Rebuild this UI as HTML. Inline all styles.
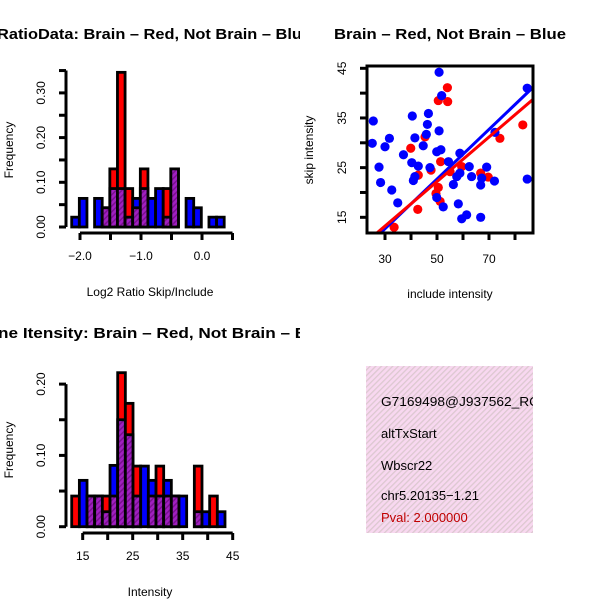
<!DOCTYPE html>
<html><head><meta charset="utf-8"><style>
body{margin:0;background:#fff}
svg{display:block;font-family:"Liberation Sans",sans-serif}
</style></head><body>
<svg id="c" width="600" height="600" viewBox="0 0 600 600">
<defs>
<pattern id="purp" width="4" height="4" patternUnits="userSpaceOnUse" patternTransform="rotate(45)">
<rect width="4" height="4" fill="#a020c0"/><rect width="1.5" height="4" fill="#7a1090"/></pattern>
<pattern id="pink" width="4" height="4" patternUnits="userSpaceOnUse" patternTransform="rotate(45)">
<rect width="4" height="4" fill="#f8d8f0"/><rect width="1.3" height="4" fill="#dcc8d0"/></pattern>
<clipPath id="cl1"><rect x="0" y="0" width="300" height="300"/></clipPath>
<clipPath id="cl3"><rect x="0" y="300" width="300" height="300"/></clipPath>
<clipPath id="cl2"><rect x="367" y="66" width="166" height="167"/></clipPath>
<clipPath id="cl4"><rect x="366" y="366" width="167" height="167"/></clipPath>
</defs>
<g id="p1" clip-path="url(#cl1)"></g>
<g id="p2"></g>
<g id="p3" clip-path="url(#cl3)"></g>
<g id="p4">
<rect x="366" y="366" width="167" height="167" fill="url(#pink)"/>
<g clip-path="url(#cl4)" font-size="13">
<text x="381" y="406" textLength="158" lengthAdjust="spacingAndGlyphs">G7169498@J937562_RC</text>
<text x="381" y="438">altTxStart</text>
<text x="381" y="470">Wbscr22</text>
<text x="381" y="500">chr5.20135−1.21</text>
<text x="381" y="522" fill="#c00000">Pval: 2.000000</text>
</g></g>
</svg>
<script>
// Histogram 1 data
const h1Start=-2.136, h1Width=0.125;
const h1Red=[0,0,0,0,0.043,0.13,0.346,0.086,0.043,0.13,0,0,0.086,0.13,0,0,0,0,0,0];
const h1Blue=[0.022,0.064,0,0.064,0.043,0.086,0.086,0.022,0.064,0.086,0.064,0.086,0.022,0.13,0,0.064,0.043,0,0.022,0.022];
const h1XTicks=[-2.0,-1.5,-1.0,-0.5,0.0,0.5];
const h1XLabels=["−2.0","","−1.0","","0.0",""];
const h1YTicks=[0,0.05,0.1,0.15,0.2,0.25,0.3,0.35];
const h1YLabels=["0.00","","0.10","","0.20","","0.30",""];
// Histogram 2 data
const h2Start=12.8, h2Width=1.533;
const h2Red=[0.043,0,0.043,0.043,0.043,0.043,0.216,0.173,0.085,0,0.043,0.085,0.043,0.043,0,0,0.085,0,0.043,0];
const h2Blue=[0,0.065,0.043,0.043,0.021,0.086,0.15,0.129,0.043,0.085,0.065,0.043,0.065,0.043,0.043,0,0.021,0.021,0,0.021];
const h2XTicks=[15,20,25,30,35,40,45];
const h2XLabels=["15","","25","","35","","45"];
const h2YTicks=[0,0.05,0.1,0.15,0.2];
const h2YLabels=["0.00","","0.10","","0.20"];
// Scatter data
const blueX=[50.8,51.8,84.7,25.5,40.5,46.7,46.3,50.8,45.9,41.5,31.7,25.1,30.0,44.7,37.1,49.9,51.5,58.8,40.3,42.8,47.3,27.7,54.4,62.4,69.1,58.8,57.6,63.3,67.2,72.1,66.8,56.3,41.5,40.9,28.3,32.6,49.9,52.4,58.2,34.9,61.4,59.5,66.8,84.7,72.3];
const blueY=[44.2,39.5,41.0,34.4,35.4,35.9,33.7,32.4,31.7,31.0,30.9,29.9,29.2,29.4,27.6,28.2,28.6,27.9,26.0,25.3,25.0,25.1,26.2,25.2,25.1,23.9,23.2,23.2,22.9,22.3,21.5,21.6,23.2,22.4,22.0,20.5,19.0,17.1,17.7,17.9,15.5,14.7,15.0,22.7,32.1];
const redX=[54.0,50.5,54.1,45.4,39.9,74.2,83.0,51.4,55.0,59.5,42.8,66.8,69.7,50.5,49.6,51.2,42.6,33.5,47.7];
const redY=[41.1,38.5,38.3,31.2,28.9,30.9,33.6,26.2,24.2,25.2,23.5,23.9,23.1,21.0,19.8,18.2,16.6,13.0,24.5];
const blueFit=[-2.3,0.50];
const redFit=[-0.2,0.448];
const scXTicks=[30,40,50,60,70,80];
const scXLabels=["30","","50","","70",""];
const scYTicks=[15,20,25,30,35,40,45];
const scYLabels=["15","","25","","35","","45"];

const NS="http://www.w3.org/2000/svg";
function mk(p,t,a){const e=document.createElementNS(NS,t);for(const k in a)e.setAttribute(k,a[k]);p.appendChild(e);return e;}

function hist(g,start,w,red,blue,xt,xl,yt,yl,cfg){
  const sx=v=>cfg.x0+(v-cfg.xv0)*cfg.kx, sy=v=>cfg.y0-v*cfg.ky;
  for(let i=0;i<red.length;i++){
    const a=sx(start+i*w), b=sx(start+(i+1)*w);
    const r=red[i], bl=blue[i];
    const mx=Math.max(r,bl), mn=Math.min(r,bl);
    if(mx>0){
      const e=mk(g,'rect',{x:a,y:sy(mx),width:b-a,height:sy(0)-sy(mx),fill:r>bl?'#ff0000':'#0000ff',stroke:'#000','stroke-width':2.8});
      
      
    }
    if(mn>0){
      const e=mk(g,'rect',{x:a,y:sy(mn),width:b-a,height:sy(0)-sy(mn),fill:'url(#purp)',stroke:'#000','stroke-width':2.8});
      
      
    }
  }
  const ax=mk(g,'g',{});
  
  
  mk(ax,'line',{x1:sx(xt[0]),x2:sx(xt[xt.length-1]),y1:cfg.axy,y2:cfg.axy,stroke:'#000','stroke-width':3});
  xt.forEach((v,i)=>{mk(ax,'line',{x1:sx(v),x2:sx(v),y1:cfg.axy,y2:cfg.axy+7,stroke:'#000','stroke-width':3});
    if(xl[i]){const t=mk(ax,'text',{x:sx(v),y:cfg.axy+27,'text-anchor':'middle','font-size':12});t.textContent=xl[i];}});
  const ay=mk(g,'g',{});
  
  
  mk(ay,'line',{x1:cfg.axx,x2:cfg.axx,y1:sy(yt[0]),y2:sy(yt[yt.length-1]),stroke:'#000','stroke-width':3});
  yt.forEach((v,i)=>{mk(ay,'line',{x1:cfg.axx-7,x2:cfg.axx,y1:sy(v),y2:sy(v),stroke:'#000','stroke-width':3});
    if(yl[i]){const t=mk(ay,'text',{x:0,y:0,transform:`translate(${cfg.axx-21},${sy(v)}) rotate(-90)`,'text-anchor':'middle','font-size':12});t.textContent=yl[i];}});
  let t=mk(g,'text',{x:cfg.xtx,y:cfg.axy+63,'text-anchor':'middle','font-size':12});t.textContent=cfg.xtitle;
  
  t=mk(g,'text',{x:0,y:0,transform:`translate(13,${cfg.ytyc}) rotate(-90)`,'text-anchor':'middle','font-size':12});t.textContent='Frequency';
  
  t=mk(g,'text',{x:cfg.tx,y:cfg.ty,'font-size':14.5,'font-weight':'bold',textLength:cfg.tl,lengthAdjust:'spacingAndGlyphs'});t.textContent=cfg.title;
  
}
const p1=document.getElementById('p1');


hist(p1,h1Start,h1Width,h1Red,h1Blue,h1XTicks,h1XLabels,h1YTicks,h1YLabels,
 {x0:80,xv0:-2.0,kx:61,y0:227,ky:447,axy:233,axx:66,xtx:150,xtitle:'Log2 Ratio Skip/Include',ytyc:150,tx:-3,ty:39,tl:314,title:'RatioData: Brain – Red, Not Brain – Blue'});
const p3=document.getElementById('p3');


hist(p3,h2Start,h2Width,h2Red,h2Blue,h2XTicks,h2XLabels,h2YTicks,h2YLabels,
 {x0:82.7,xv0:15,kx:5.0,y0:526.7,ky:713,axy:533,axx:66,xtx:150,xtitle:'Intensity',ytyc:450,tx:-2,ty:338,tl:334,title:'ne Itensity: Brain – Red, Not Brain – Blue'});

// scatter
const p2=document.getElementById('p2');


const X=v=>385+(v-30)*2.6, Y=v=>68.3+(45-v)*4.967;
const pts=mk(p2,'g',{'clip-path':'url(#cl2)'});
redX.forEach((v,i)=>{const c=mk(pts,'circle',{cx:X(v),cy:Y(redY[i]),r:4.6,fill:'#ff0000'});
  });
blueX.forEach((v,i)=>{const c=mk(pts,'circle',{cx:X(v),cy:Y(blueY[i]),r:4.6,fill:'#0000ff'});
  });
[[blueFit,'#0000ff','fit-line-blue'],[redFit,'#ff0000','fit-line-red']].forEach(([f,col,n])=>{
  const l=mk(pts,'line',{x1:X(20),y1:Y(f[0]+f[1]*20),x2:X(90),y2:Y(f[0]+f[1]*90),stroke:col,'stroke-width':3});
  });
mk(p2,'rect',{x:367,y:66,width:166,height:167,fill:'none',stroke:'#000','stroke-width':3});
const sxa=mk(p2,'g',{});


scXTicks.forEach((v,i)=>{mk(sxa,'line',{x1:X(v),x2:X(v),y1:233,y2:240,stroke:'#000','stroke-width':3});
  if(scXLabels[i]){const t=mk(sxa,'text',{x:X(v),y:263,'text-anchor':'middle','font-size':12});t.textContent=scXLabels[i];}});
const sya=mk(p2,'g',{});


scYTicks.forEach((v,i)=>{mk(sya,'line',{x1:360,x2:367,y1:Y(v),y2:Y(v),stroke:'#000','stroke-width':3});
  if(scYLabels[i]){const t=mk(sya,'text',{x:0,y:0,transform:`translate(346,${Y(v)}) rotate(-90)`,'text-anchor':'middle','font-size':12});t.textContent=scYLabels[i];}});
let t=mk(p2,'text',{x:450,y:298,'text-anchor':'middle','font-size':12});t.textContent='include intensity';

t=mk(p2,'text',{x:0,y:0,transform:'translate(313,150) rotate(-90)','text-anchor':'middle','font-size':12});t.textContent='skip intensity';

t=mk(p2,'text',{x:334,y:39,'font-size':14.5,'font-weight':'bold',textLength:232,lengthAdjust:'spacingAndGlyphs'});t.textContent='Brain – Red, Not Brain – Blue';

</script>
</body></html>
